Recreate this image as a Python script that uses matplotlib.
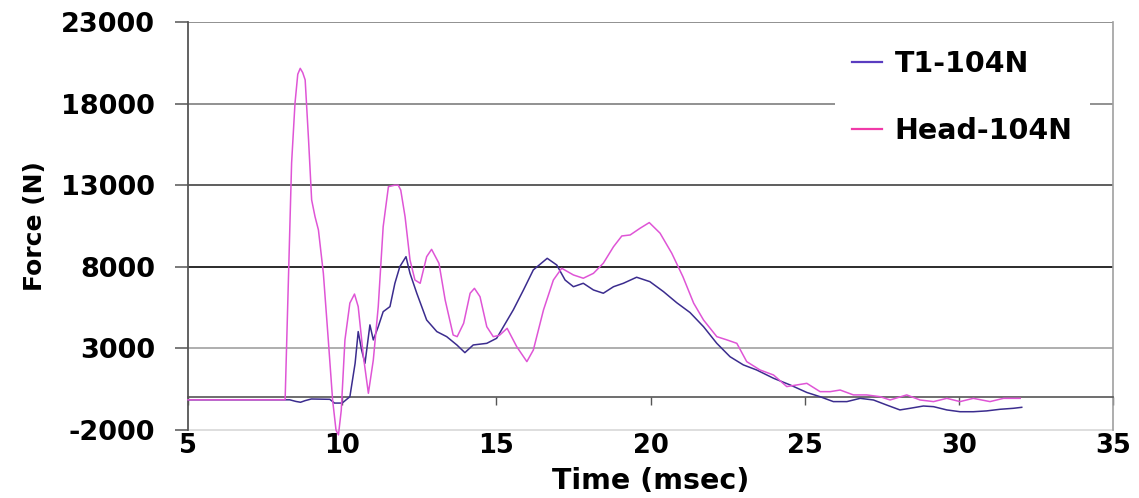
import matplotlib
matplotlib.use("Agg")
import matplotlib.pyplot as plt
from matplotlib.lines import Line2D

# ---------------- data ----------------
t1_time = [5.0, 8.3, 8.5, 8.65, 8.8, 9.0, 9.6, 9.75, 10.0, 10.25, 10.42, 10.52, 10.63,
           10.74, 10.9, 11.01, 11.17, 11.33, 11.55, 11.71, 11.87, 12.07, 12.2, 12.42,
           12.74, 13.07, 13.39, 13.72, 13.98, 14.25, 14.69, 15.01, 15.23, 15.55, 15.88,
           16.2, 16.65, 16.96, 17.23, 17.5, 17.82, 18.15, 18.47, 18.8, 19.12, 19.55,
           19.98, 20.42, 20.85, 21.28, 21.72, 22.15, 22.58, 23.01, 23.44, 23.99, 24.53,
           25.07, 25.5, 25.93, 26.37, 26.8, 27.23, 27.66, 28.09, 28.42, 28.85, 29.18,
           29.61, 30.04, 30.47, 30.9, 31.34, 31.77, 32.04]
t1_force = [-150, -150, -250, -300, -200, -100, -120, -350, -350, 40, 2090, 4030, 2900,
            2090, 4440, 3520, 4330, 5250, 5560, 6990, 8010, 8620, 7600, 6380,
            4740, 4030, 3720, 3210, 2740, 3210, 3310, 3620, 4330, 5360, 6580,
            7810, 8520, 8110, 7190, 6780, 6990, 6580, 6380, 6780, 6990, 7360,
            7090, 6480, 5800, 5200, 4330, 3310, 2490, 1990, 1680, 1170, 760,
            300, 40, -260, -260, -60, -160, -470, -770, -670, -530, -570,
            -770, -880, -880, -830, -730, -670, -610]

head_time = [5.0, 8.15, 8.36, 8.47, 8.56, 8.64, 8.72, 8.8, 8.91, 9.01, 9.12, 9.23, 9.39,
             9.55, 9.69, 9.8, 9.88, 9.97, 10.09, 10.25, 10.4, 10.52, 10.69, 10.85, 11.01,
             11.17, 11.33, 11.5, 11.7, 11.82, 11.9, 12.04, 12.2, 12.36, 12.53, 12.74,
             12.9, 13.14, 13.34, 13.6, 13.73, 13.94, 14.15, 14.29, 14.47, 14.69, 14.9,
             15.1, 15.35, 15.66, 15.99, 16.2, 16.53, 16.85, 17.12, 17.5, 17.82, 18.15,
             18.47, 18.8, 19.07, 19.34, 19.66, 19.96, 20.31, 20.69, 21.05, 21.4, 21.72,
             22.15, 22.48, 22.8, 23.12, 23.55, 23.99, 24.42, 25.07, 25.5, 25.83, 26.15,
             26.58, 27.01, 27.45, 27.77, 28.31, 28.74, 29.18, 29.61, 30.04, 30.47, 31.01,
             31.45, 31.99]
head_force = [-150, -150, 14360, 18020, 19800, 20160, 19900, 19450, 15770, 12100, 11070,
              10260, 7600, 3520, -160, -2000, -2300, -800, 3520, 5780, 6330, 5560, 2490,
              250, 2290, 5560, 10460, 12910, 13000, 13000, 12700, 11070, 8420, 7190, 6990,
              8620, 9070, 8210, 5970, 3820, 3720, 4540, 6380, 6680, 6170, 4330, 3720,
              3800, 4230, 3110, 2190, 2900, 5360, 7190, 7910, 7500, 7300, 7600, 8220,
              9230, 9890, 9950, 10360, 10710, 10060, 8830, 7400, 5770, 4740, 3720, 3520,
              3310, 2190, 1680, 1370, 660, 860, 350, 350, 450, 150, 150, 40, -160, 150,
              -160, -260, -60, -260, -60, -260, -60, -60]

series_labels = ["T1-104N", "Head-104N"]
x_ticks = [5, 10, 15, 20, 25, 30, 35]
y_ticks = [-2000, 3000, 8000, 13000, 18000, 23000]
x_label = "Time (msec)"
y_label = "Force (N)"

# ---------------- style ----------------
t1_color = "#3b2c8e"
head_color = "#df55d6"
grid_colors = {3000: "#a8a8a8", 8000: "#1a1a1a", 13000: "#505050",
               18000: "#888888", 23000: "#888888"}

plt.rcParams["font.family"] = ["DejaVu Sans"]
plt.rcParams["font.weight"] = "bold"

fig = plt.figure(figsize=(11.39, 4.98), dpi=100)
ax = fig.add_axes([188 / 1139, 68 / 498, 925 / 1139, 408 / 498])

for yv in y_ticks[1:]:
    ax.axhline(yv, color=grid_colors.get(yv, "#888888"), lw=1.3, zorder=1)

ax.plot(t1_time, t1_force, color=t1_color, lw=1.1, zorder=3)
ax.plot(head_time, head_force, color=head_color, lw=1.1, zorder=4, clip_on=False)

ax.set_xlim(5, 35)
ax.set_ylim(-2000, 23000)

# axes spines
ax.spines["bottom"].set_position(("data", 0))
ax.spines["bottom"].set_color("#555555")
ax.spines["bottom"].set_linewidth(1.2)
ax.spines["left"].set_color("#555555")
ax.spines["left"].set_linewidth(1.3)
ax.spines["top"].set_visible(False)
ax.spines["right"].set_color("#a0a0a0")
ax.spines["right"].set_linewidth(1.2)

ax.set_xticks(x_ticks)
ax.tick_params(axis="x", direction="out", length=6, width=1, color="#555555",
               labelbottom=False)
ax.set_yticks(y_ticks)
ax.set_yticklabels([str(v) for v in y_ticks])
ax.tick_params(axis="y", direction="out", length=9.5, width=1.1, color="#555555",
               pad=14, labelsize=19.5)
for lbl in ax.get_yticklabels():
    lbl.set_fontweight("bold")

# tick labels at the bottom of the plot area
sec = ax.secondary_xaxis("bottom")
sec.set_xticks(x_ticks)
sec.set_xticklabels([str(v) for v in x_ticks])
sec.tick_params(axis="x", length=0, pad=2, labelsize=18.5)
sec.spines["bottom"].set_color("#d8d8d8")
sec.spines["bottom"].set_linewidth(1.2)
for lbl in sec.get_xticklabels():
    lbl.set_fontweight("bold")
sec.set_xlabel(x_label, fontsize=20.5, fontweight="bold", labelpad=6)

ax.set_ylabel(y_label, fontsize=18, fontweight="bold", labelpad=10)

handles = [Line2D([], [], color="#5a3cc0", lw=1.6),
           Line2D([], [], color="#f03aa8", lw=1.6)]
leg = ax.legend(handles, series_labels, loc="upper left",
                bbox_to_anchor=((835 - 188) / 925, (430 - 33) / 408),
                borderaxespad=0, frameon=True, facecolor="white", edgecolor="none",
                framealpha=1, fancybox=False, handlelength=1.05, handletextpad=0.45,
                labelspacing=1.35, borderpad=0.6,
                prop={"size": 20.5, "weight": "bold"})
leg.set_zorder(5)

fig.savefig("out.png", dpi=100, facecolor="white")
